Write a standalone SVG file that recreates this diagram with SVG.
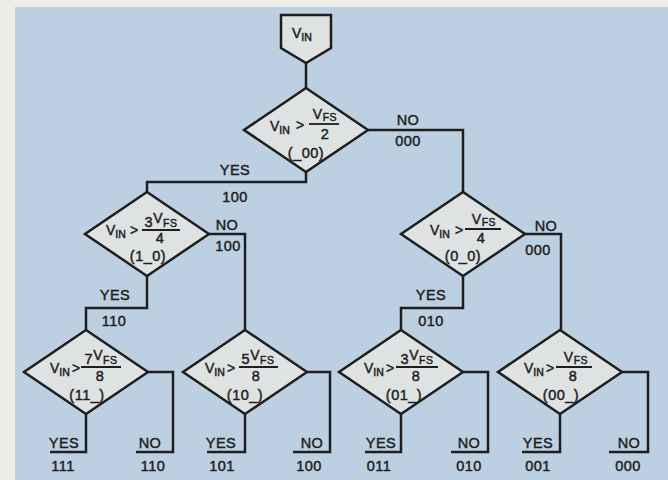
<svg xmlns="http://www.w3.org/2000/svg" width="668" height="480" viewBox="0 0 668 480">
<defs>
<style>
.bg{fill:#bdd0e1}
.shape{fill:#dfe2e3;stroke:#1e1e1e;stroke-width:2.5;stroke-linejoin:miter}
.ln{fill:none;stroke:#1e1e1e;stroke-width:2.5;stroke-linejoin:miter}
.bar{stroke:#1e1e1e;stroke-width:1.8}
text{font-family:"Liberation Sans","DejaVu Sans",sans-serif;fill:#1e1e1e;stroke:#1e1e1e;stroke-width:0.45}
.t{font-size:14px}
.m{font-size:14.5px;text-anchor:middle;letter-spacing:0.5px}
.v{font-size:14px}
.s{font-size:10.5px}
</style>
</defs>
<rect x="0" y="0" width="668" height="480" fill="#eeece6"/>
<rect class="bg" x="15" y="7" width="653" height="473"/>

<g id="connectors">
<path class="ln" d="M306,63 V88"/>
<path class="ln" d="M306,172 V182 H147 V192"/>
<path class="ln" d="M368,130 H463 V192"/>
<path class="ln" d="M147,276 V308 H86 V330"/>
<path class="ln" d="M209,234 H245 V330"/>
<path class="ln" d="M463,276 V308 H401 V330"/>
<path class="ln" d="M525,234 H561 V330"/>
<path class="ln" d="M86,414 V452 H50"/>
<path class="ln" d="M148,372 H173 V452 H136"/>
<path class="ln" d="M245,414 V452 H207"/>
<path class="ln" d="M307,372 H330 V452 H293"/>
<path class="ln" d="M401,414 V452 H365"/>
<path class="ln" d="M463,372 H488 V452 H451"/>
<path class="ln" d="M560,414 V452 H522"/>
<path class="ln" d="M622,372 H648 V452 H609"/>
</g>

<g id="labels">
<text class="m" x="408" y="125">NO</text>
<text class="m" x="408" y="146">000</text>
<text class="m" x="235" y="175">YES</text>
<text class="m" x="235" y="202">100</text>
<text class="m" x="227" y="230">NO</text>
<text class="m" x="228" y="251">100</text>
<text class="m" x="546" y="231">NO</text>
<text class="m" x="538" y="255">000</text>
<text class="m" x="115" y="300">YES</text>
<text class="m" x="114" y="326">110</text>
<text class="m" x="431" y="300">YES</text>
<text class="m" x="431" y="326">010</text>
<text class="m" x="64" y="448">YES</text>
<text class="m" x="63" y="471">111</text>
<text class="m" x="150" y="448">NO</text>
<text class="m" x="153" y="471">110</text>
<text class="m" x="221" y="448">YES</text>
<text class="m" x="222" y="471">101</text>
<text class="m" x="312" y="448">NO</text>
<text class="m" x="309" y="471">100</text>
<text class="m" x="381" y="448">YES</text>
<text class="m" x="379" y="471">011</text>
<text class="m" x="469" y="448">NO</text>
<text class="m" x="469" y="471">010</text>
<text class="m" x="538" y="448">YES</text>
<text class="m" x="538" y="471">001</text>
<text class="m" x="629" y="448">NO</text>
<text class="m" x="628" y="471">000</text>
</g>

<g id="start">
<path class="shape" d="M281,15 H331 V48 L306,63 L281,48 Z"/>
<text class="v" x="292" y="38">V<tspan class="s" dy="3">IN</tspan></text>
</g>

<g id="d1">
<path class="shape" d="M306,88 L368,130 L306,172 L244,130 Z"/>
<text class="v" x="270" y="131">V<tspan class="s" dy="3">IN</tspan></text>
<text class="v" x="296" y="130">&gt;</text>
<line class="bar" x1="309" y1="124" x2="339" y2="124"/>
<text class="m" x="325" y="121"><tspan class="v" dy="-2">V</tspan><tspan class="s" dy="2">FS</tspan></text>
<text class="m" x="325" y="139">2</text>
<text class="m" x="306" y="158">(_00)</text>
</g>

<g id="d2">
<path class="shape" d="M147,192 L209,234 L147,276 L85,234 Z"/>
<text class="v" x="106" y="235">V<tspan class="s" dy="3">IN</tspan></text>
<text class="v" x="130" y="235">&gt;</text>
<line class="bar" x1="142" y1="230" x2="180" y2="230"/>
<text class="m" x="161" y="227">3<tspan class="v" dy="-4">V</tspan><tspan class="s" dy="4">FS</tspan></text>
<text class="m" x="160" y="243">4</text>
<text class="m" x="148" y="261">(1_0)</text>
</g>

<g id="d3">
<path class="shape" d="M463,192 L525,234 L463,276 L401,234 Z"/>
<text class="v" x="430" y="235">V<tspan class="s" dy="3">IN</tspan></text>
<text class="v" x="455" y="235">&gt;</text>
<line class="bar" x1="465" y1="229" x2="501" y2="229"/>
<text class="m" x="484" y="226"><tspan class="v" dy="-2">V</tspan><tspan class="s" dy="2">FS</tspan></text>
<text class="m" x="481" y="243">4</text>
<text class="m" x="463" y="261">(0_0)</text>
</g>

<g id="d4">
<path class="shape" d="M86,330 L148,372 L86,414 L24,372 Z"/>
<text class="v" x="50" y="373">V<tspan class="s" dy="3">IN</tspan></text>
<text class="v" x="72" y="373">&gt;</text>
<line class="bar" x1="81" y1="367" x2="121" y2="367"/>
<text class="m" x="101" y="364">7<tspan class="v" dy="-4">V</tspan><tspan class="s" dy="4">FS</tspan></text>
<text class="m" x="100" y="381">8</text>
<text class="m" x="87" y="400">(11_)</text>
</g>

<g id="d5">
<path class="shape" d="M245,330 L307,372 L245,414 L183,372 Z"/>
<text class="v" x="205" y="373">V<tspan class="s" dy="3">IN</tspan></text>
<text class="v" x="227" y="373">&gt;</text>
<line class="bar" x1="239" y1="367" x2="278" y2="367"/>
<text class="m" x="258" y="364">5<tspan class="v" dy="-4">V</tspan><tspan class="s" dy="4">FS</tspan></text>
<text class="m" x="256" y="381">8</text>
<text class="m" x="245" y="400">(10_)</text>
</g>

<g id="d6">
<path class="shape" d="M401,330 L463,372 L401,414 L339,372 Z"/>
<text class="v" x="364" y="373">V<tspan class="s" dy="3">IN</tspan></text>
<text class="v" x="386" y="373">&gt;</text>
<line class="bar" x1="396" y1="367" x2="438" y2="367"/>
<text class="m" x="417" y="364">3<tspan class="v" dy="-4">V</tspan><tspan class="s" dy="4">FS</tspan></text>
<text class="m" x="416" y="381">8</text>
<text class="m" x="404" y="400">(01_)</text>
</g>

<g id="d7">
<path class="shape" d="M560,330 L622,372 L560,414 L498,372 Z"/>
<text class="v" x="524" y="373">V<tspan class="s" dy="3">IN</tspan></text>
<text class="v" x="546" y="373">&gt;</text>
<line class="bar" x1="556" y1="367" x2="592" y2="367"/>
<text class="m" x="576" y="364"><tspan class="v" dy="-2">V</tspan><tspan class="s" dy="2">FS</tspan></text>
<text class="m" x="573" y="381">8</text>
<text class="m" x="561" y="400">(00_)</text>
</g>
</svg>
